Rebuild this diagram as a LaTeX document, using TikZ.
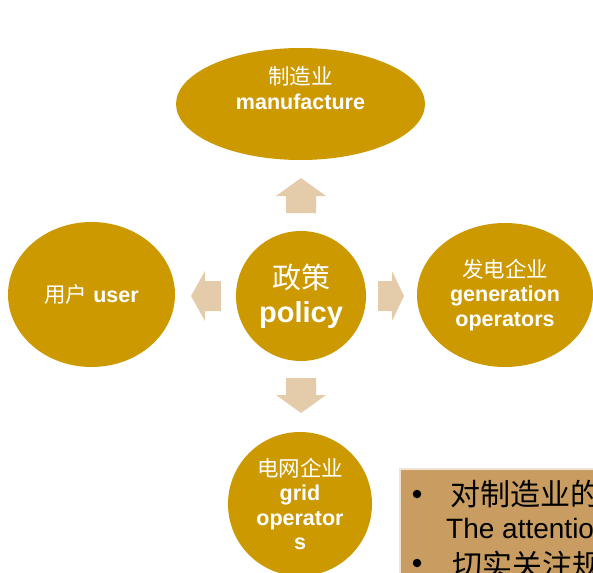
\documentclass[tikz,border=0pt]{standalone}
\usepackage{fontspec}
\setmainfont{Liberation Sans}
\newfontfamily\cjk{Noto Sans CJK SC}
\newcommand{\zh}[1]{{\cjk\mdseries #1}}
\usetikzlibrary{positioning,shapes.geometric}
\definecolor{gold}{RGB}{204,153,0}
\definecolor{sand}{RGB}{228,203,170}
\definecolor{notefill}{RGB}{201,157,98}
\definecolor{noteline}{RGB}{238,228,214}

\begin{document}
\begin{tikzpicture}
  [x=1pt,y=-1pt,
   bubble/.style={ellipse, fill=gold, text=white, inner sep=0pt, align=center,
     font=\fontsize{21.5}{24.5}\selectfont\bfseries},
   blockarrow/.style={fill=sand},
   dot/.style={circle, fill=black, inner sep=0pt, minimum size=8.5},
   notetext/.style={anchor=base west, inner sep=0pt, font=\fontsize{28}{32}\selectfont}]
  \useasboundingbox (0,0) rectangle (593,572);
  \clip (0,0) rectangle (593,572);

  \node[bubble, minimum width=249, minimum height=112] (man) at (300.5,104) {};
  \node[bubble, fill=none] (mantext) at (300.5,88) {\zh{制造业}\\manufacture};
  \node[bubble, minimum width=167, minimum height=145] (usr) at (91.5,294.5) {\zh{用户} user};
  \node[bubble, minimum width=176, minimum height=144] (gen) at (505,295) {\zh{发电企业}\\generation\\operators};
  \node[bubble, minimum width=130, minimum height=130,
        font=\fontsize{29}{34}\selectfont\bfseries] (pol) at (301,296) {\zh{政策}\\policy};
  \node[bubble, minimum width=144, minimum height=144] (grid) at (300,504) {\zh{电网企业}\\grid\\operator\\s};

  \foreach \ang/\s/\h/\t in {90/83/100/118, 270/82/99/117, 180/80/96/110, 0/77/91/103}
    \fill[blockarrow, shift={(pol.center)}, rotate=\ang]
      (\s,-15) -- (\h,-15) -- (\h,-25) -- (\t,0) -- (\h,25) -- (\h,15) -- (\s,15) -- cycle;

  % note box, cut off by the page edge
  \node[draw=noteline, line width=2pt, fill=notefill, minimum width=250, minimum height=150,
        anchor=north west] (note) at (399,468) {};
  \node[dot] (dot1) at (417,494) {};
  \node[dot] (dot3) at (417,563) {};
  \node[notetext, font=\fontsize{30}{32}\selectfont] (first) at (450,505) {\zh{对制造业的}};
  \node[notetext] (second) at (446,538) {The attention};
  \node[notetext, font=\fontsize{30}{32}\selectfont] (third) at (452,576) {\zh{切实关注规}};
\end{tikzpicture}
\end{document}
